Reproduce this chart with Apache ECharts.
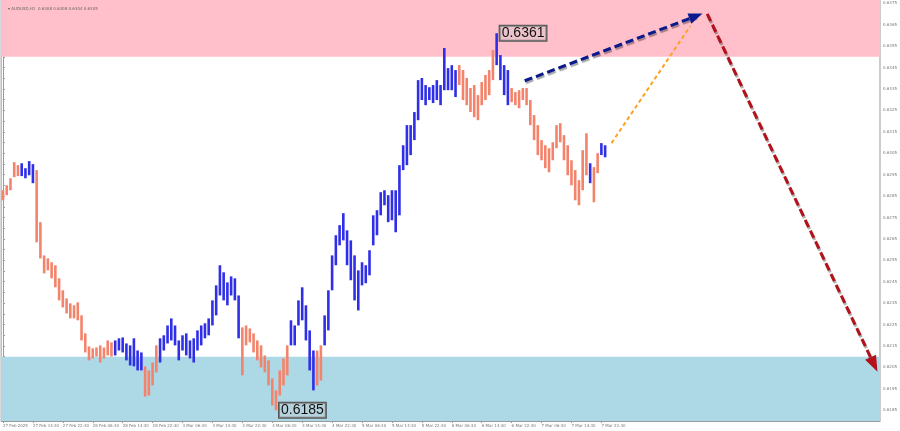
<!DOCTYPE html>
<html><head><meta charset="utf-8">
<script src="https://cdn.jsdelivr.net/npm/echarts@6/dist/echarts.min.js"></script>
<style>html,body{margin:0;padding:0;background:#fff}#c{width:900px;height:431px}</style>
</head><body><div id="c"></div>
<script>
// ---- data ----
const tickLabels = ['27 Feb 2025','27 Feb 14:30','27 Feb 22:30','28 Feb 06:30','28 Feb 14:30','28 Feb 22:30',
  '3 Mar 06:30','3 Mar 14:30','3 Mar 22:30','4 Mar 06:30','4 Mar 14:30','4 Mar 22:30','5 Mar 06:30','5 Mar 14:30',
  '5 Mar 22:30','6 Mar 06:30','6 Mar 14:30','6 Mar 22:30','7 Mar 06:30','7 Mar 14:30','7 Mar 22:30'];
const barsPerTick = 8;
const totalSlots = 235;

const highs = [
 0.62877,0.62900,0.62933,0.63008,0.62994,0.63003,0.62980,0.63013,0.62999,0.62971,
 0.62728,0.62573,0.62559,0.62541,0.62527,0.62466,0.62410,0.62372,0.62349,0.62340,
 0.62354,0.62293,0.62209,0.62148,0.62139,0.62143,0.62153,0.62143,0.62176,0.62167,
 0.62176,0.62186,0.62190,0.62162,0.62153,0.62186,0.62129,0.62120,0.62055,0.62036,
 0.62073,0.62153,0.62186,0.62200,0.62246,0.62279,0.62246,0.62176,0.62200,0.62209,
 0.62176,0.62186,0.62223,0.62246,0.62256,0.62279,0.62363,0.62433,0.62527,0.62494,
 0.62447,0.62475,0.62466,0.62386,0.62237,0.62246,0.62232,0.62209,0.62176,0.62153,
 0.62106,0.62083,0.61999,0.61943,0.62036,0.62092,0.62153,0.62270,0.62246,0.62363,
 0.62424,0.62340,0.62223,0.62129,0.62129,0.62153,0.62293,0.62410,0.62573,0.62667,
 0.62714,0.62770,0.62690,0.62643,0.62573,0.62503,0.62541,0.62527,0.62597,0.62760,
 0.62784,0.62868,0.62877,0.62854,0.62877,0.62877,0.62994,0.63087,0.63181,0.63181,
 0.63242,0.63391,0.63401,0.63368,0.63358,0.63368,0.63391,0.63368,0.63541,0.63447,
 0.63461,0.63438,0.63461,0.63438,0.63401,0.63354,0.63368,0.63321,0.63382,0.63415,
 0.63438,0.63531,0.63610,0.63508,0.63461,0.63438,0.63354,0.63335,0.63344,0.63354,
 0.63354,0.63298,0.63228,0.63181,0.63111,0.63087,0.63073,0.63101,0.63181,0.63190,
 0.63134,0.63087,0.63017,0.62971,0.62924,0.63064,0.63143,0.63003,0.62985,0.63050,
 0.63097,0.63087];
const lows = [
 0.62830,0.62854,0.62877,0.62938,0.62943,0.62943,0.62933,0.62947,0.62910,0.62634,
 0.62559,0.62489,0.62503,0.62466,0.62424,0.62363,0.62330,0.62302,0.62279,0.62279,
 0.62270,0.62176,0.62120,0.62083,0.62092,0.62101,0.62073,0.62092,0.62106,0.62101,
 0.62106,0.62129,0.62120,0.62083,0.62059,0.62055,0.62036,0.62036,0.61914,0.61919,
 0.61966,0.62027,0.62073,0.62129,0.62162,0.62176,0.62153,0.62083,0.62129,0.62106,
 0.62092,0.62073,0.62129,0.62153,0.62186,0.62200,0.62246,0.62293,0.62386,0.62363,
 0.62340,0.62386,0.62363,0.62186,0.62013,0.62153,0.62167,0.62120,0.62083,0.62050,
 0.62027,0.61966,0.61872,0.61850,0.61919,0.61966,0.62013,0.62153,0.62153,0.62246,
 0.62270,0.62176,0.62036,0.61943,0.61966,0.61989,0.62153,0.62223,0.62410,0.62527,
 0.62620,0.62643,0.62527,0.62457,0.62363,0.62316,0.62433,0.62443,0.62480,0.62620,
 0.62667,0.62760,0.62807,0.62728,0.62737,0.62681,0.62760,0.62971,0.62994,0.63041,
 0.63111,0.63204,0.63298,0.63274,0.63298,0.63284,0.63298,0.63274,0.63344,0.63344,
 0.63344,0.63312,0.63368,0.63298,0.63274,0.63242,0.63218,0.63204,0.63274,0.63298,
 0.63321,0.63391,0.63461,0.63391,0.63321,0.63274,0.63288,0.63274,0.63260,0.63298,
 0.63274,0.63181,0.63111,0.63041,0.63017,0.62980,0.62961,0.63017,0.63073,0.63101,
 0.63017,0.62947,0.62900,0.62830,0.62807,0.62877,0.62947,0.62910,0.62821,0.62957,
 0.63041,0.63031];
// wave segments (start index), alternating salmon / blue starting with salmon
const waveStarts = [0,5,9,30,38,42,64,77,84,86,122,132,136,157,158,160];

const zoneSell = [0.6350, 0.63765];
const zoneBuy = [0.6180, 0.6210];
const extremeHighIdx = 132;
const extremeLowIdx = 73;
const bidPrice = 0.6308;
const askPrice = 0.6305;
const arrowNavy = [[139.5, 0.63388], [185.3, 0.63690]];
const arrowOrange = [[162.7, 0.63097], [183.8, 0.63644]];
const arrowRed = [[188.3, 0.63700], [232.9, 0.62064]];
const headerText = '\u25BE AUDUSD,H1  0.6308 0.6308 0.6304 0.6305';

// ---- build ----
const SALMON = '#f4836b', BLUE = '#2f2fe8';
function waveOf(i){ let k=0; for(let s=0;s<waveStarts.length;s++){ if(i>=waveStarts[s]) k=s; } return k%2; }
const barData = highs.map((h,i)=>[i,h,lows[i],waveOf(i)]);
const slots = [];
for(let i=0;i<totalSlots;i++){ const t=i/barsPerTick; slots.push(Number.isInteger(t)&&t<tickLabels.length?tickLabels[t]:''); }
const showTick = (idx)=> idx%barsPerTick===0 && idx/barsPerTick < tickLabels.length;

const chart = echarts.init(document.getElementById('c'), null, {renderer:'canvas'});
const lblFont = {fontSize:4, color:'#777', fontFamily:'DejaVu Sans'};
chart.setOption({
  animation:false,
  backgroundColor:'#fff',
  title:{text:headerText, left:3, top:2, textStyle:{fontSize:4, color:'#666', fontWeight:'normal', fontFamily:'DejaVu Sans'}},
  grid:{left:1, right:18, top:0, bottom:10, show:true, borderColor:'#999', borderWidth:1, backgroundColor:'transparent'},
  xAxis:[
    {type:'category', data:slots, boundaryGap:true,
     axisLine:{show:true, lineStyle:{color:'#999', width:1}},
     axisTick:{show:true, interval:(i)=>showTick(i), alignWithLabel:true, length:2, lineStyle:{color:'#999'}},
     axisLabel:Object.assign({interval:(i)=>showTick(i), align:'left', margin:3}, lblFont),
     splitLine:{show:false}},
    {type:'value', min:-0.5, max:totalSlots-0.5, show:false}
  ],
  yAxis:{type:'value', position:'right', min:zoneBuy[0], max:zoneSell[1], interval:0.0005, scale:true,
     axisLine:{show:true, lineStyle:{color:'#999', width:1}},
     axisTick:{show:true, length:2, lineStyle:{color:'#999'}},
     axisLabel:Object.assign({margin:3, formatter:(v)=> (Math.round(v*10000)%10===5 ? v.toFixed(4) : '')}, lblFont),
     splitLine:{show:false}},
  series:[
    {type:'line', xAxisIndex:1, data:[], z:1, silent:true,
     markArea:{silent:true, data:[
       [{yAxis:zoneSell[0], itemStyle:{color:'#ffc0cb', opacity:1}}, {yAxis:zoneSell[1]}],
       [{yAxis:zoneBuy[0], itemStyle:{color:'#add8e6', opacity:1}}, {yAxis:zoneBuy[1]}]
     ]}},
    {type:'custom', xAxisIndex:1, z:3, data:barData, encode:{x:0, y:[1,2]}, silent:true,
     renderItem:(params, api)=>{
       const t = api.coord([api.value(0), api.value(1)]);
       const b = api.coord([api.value(0), api.value(2)]);
       return {type:'rect', shape:{x:t[0]-1.3, y:t[1], width:2.6, height:Math.max(1,b[1]-t[1])},
               style:{fill: api.value(3) ? BLUE : SALMON}};
     }},
    {type:'line', xAxisIndex:1, data:[], z:5, silent:true,
     markPoint:{silent:true, symbol:'circle', symbolSize:0,
       label:{show:true, position:'right', distance:3, fontSize:14, fontFamily:'Liberation Sans', color:'#111',
              backgroundColor:'rgba(200,200,200,0.35)', borderColor:'#555', borderWidth:1, padding:[1,2,0,2],
              formatter:(p)=>p.value.toFixed(4)},
       data:[
         {coord:[extremeHighIdx, highs[extremeHighIdx]], value:highs[extremeHighIdx]},
         {coord:[extremeLowIdx, lows[extremeLowIdx]], value:lows[extremeLowIdx]}
       ]},
     markLine:{silent:true, symbol:['none','none'],
       label:{show:true, position:'end', distance:2, fontSize:4, fontFamily:'DejaVu Sans', padding:[1,2]},
       lineStyle:{opacity:0},
       data:[
         {yAxis:bidPrice, label:{formatter:bidPrice.toFixed(4), color:'#fff', backgroundColor:'#111'}},
         {yAxis:askPrice, label:{formatter:askPrice.toFixed(4), color:'#fff', backgroundColor:'#888'}}
       ]}},
    {type:'line', xAxisIndex:1, data:[], z:6, silent:true,
     markLine:{silent:true, symbol:['none','triangle'], symbolSize:[11,14], label:{show:false},
       lineStyle:{color:'#0b1a8c', width:3, type:[8,4], shadowColor:'rgba(0,0,0,0.35)', shadowOffsetX:1, shadowOffsetY:2, shadowBlur:1},
       data:[[{coord:arrowNavy[0]},{coord:arrowNavy[1]}]]}},
    {type:'line', xAxisIndex:1, data:[], z:6, silent:true,
     markLine:{silent:true, symbol:['none','none'], label:{show:false},
       lineStyle:{color:'#ffa020', width:2, type:[4,3]},
       data:[[{coord:arrowOrange[0]},{coord:arrowOrange[1]}]]}},
    {type:'line', xAxisIndex:1, data:[], z:6, silent:true,
     markLine:{silent:true, symbol:['none','triangle'], symbolSize:[12,16], label:{show:false},
       lineStyle:{color:'#b3121b', width:3, type:[8,4], shadowColor:'rgba(0,0,0,0.35)', shadowOffsetX:1, shadowOffsetY:2, shadowBlur:1},
       data:[[{coord:arrowRed[0]},{coord:arrowRed[1]}]]}}
  ]
});
</script></body></html>
